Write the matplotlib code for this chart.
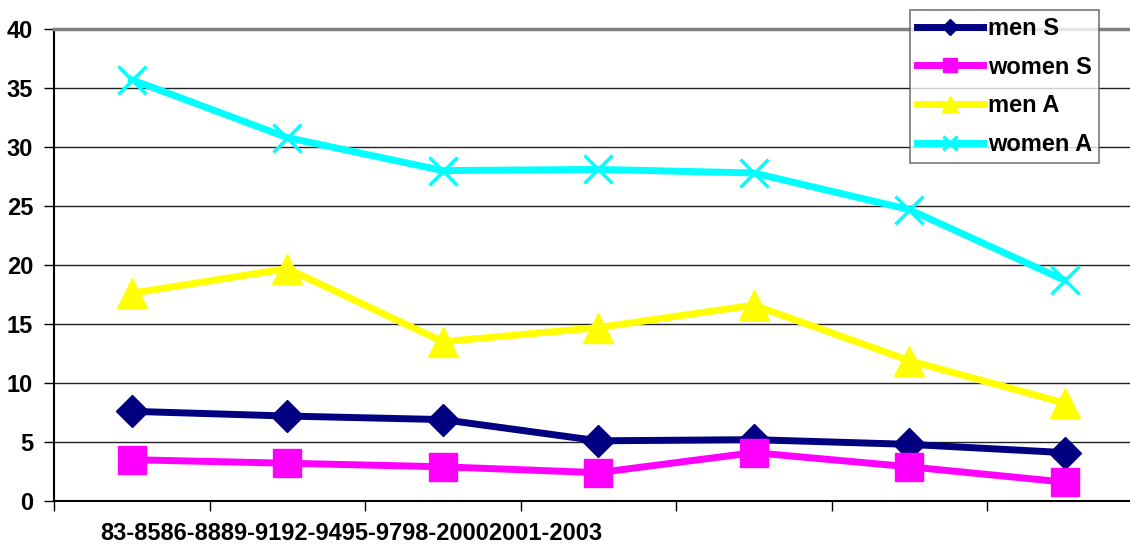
import matplotlib
matplotlib.use("Agg")
import matplotlib.pyplot as plt
import numpy as np

plt.rcParams['font.family'] = ['Liberation Sans', 'DejaVu Sans']
plt.rcParams['font.weight'] = 'bold'

periods = ["83-85", "86-88", "89-91", "92-94", "95-97", "98-2000", "2001-2003"]
men_s = [7.6, 7.2, 6.9, 5.1, 5.2, 4.8, 4.1]
women_s = [3.5, 3.2, 2.9, 2.4, 4.1, 2.9, 1.6]
men_a = [17.6, 19.7, 13.5, 14.7, 16.6, 11.9, 8.3]
women_a = [35.7, 30.8, 28.0, 28.1, 27.8, 24.7, 18.7]

fig = plt.figure(figsize=(11.3, 5.45), dpi=100)
# plot area runs a little past the right edge of the image
ax = fig.add_axes([54 / 1130, 44 / 545, 1088.5 / 1130, 472 / 545])

x = np.arange(len(periods)) + 0.5
ax.plot(x, men_s, color='#000080', lw=5, marker='D', ms=16, label='men S')
ax.plot(x, women_s, color='#FF00FF', lw=5, marker='s', ms=20, label='women S')
ax.plot(x, men_a, color='#FFFF00', lw=5, marker='^', ms=22, label='men A')
ax.plot(x, women_a, color='#00FFFF', lw=5, marker='x', ms=20, mew=2.5, label='women A')

ax.set_xlim(0, len(periods))
ax.set_ylim(0, 40)
ax.set_yticks(range(0, 41, 5))
ax.set_xticks(range(len(periods) + 1))
ax.set_xticklabels([])
ax.tick_params(axis='both', direction='out', length=7, width=1, color='black')
ax.tick_params(axis='y', labelsize=17, pad=8)
for t in ax.get_yticklabels():
    t.set_fontweight('bold')

ax.yaxis.grid(True, color='#222222', lw=1)
ax.set_axisbelow(True)
ax.spines['top'].set_color('#808080')
ax.spines['top'].set_linewidth(2.5)
ax.spines['right'].set_visible(False)
ax.spines['left'].set_linewidth(1.5)
ax.spines['bottom'].set_linewidth(1.5)

# category labels crammed together under the axis
fig.text(100 / 1130, 1 - 540 / 545, "".join(periods), fontsize=17,
         fontweight='bold', va='baseline', ha='left')

leg = ax.legend(loc='upper left', bbox_to_anchor=(910 / 1130, 1 - 10 / 545),
                bbox_transform=fig.transFigure, fontsize=17, frameon=True,
                fancybox=False, edgecolor='#555555', handlelength=2.8,
                handletextpad=0.2, borderpad=0.3, labelspacing=0.66,
                markerscale=0.5, borderaxespad=0)
leg.get_frame().set_linewidth(1.2)
for t in leg.get_texts():
    t.set_fontweight('bold')

fig.savefig("out.png", dpi=100)
